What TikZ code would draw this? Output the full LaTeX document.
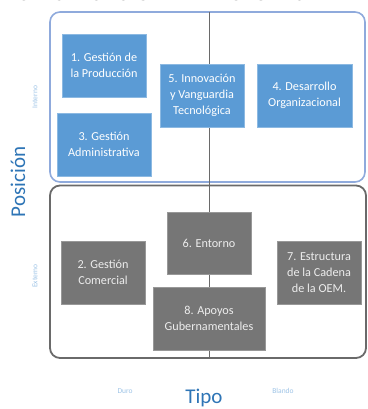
\documentclass[tikz,border=0pt]{standalone}
\usepackage{fontspec}
\setmainfont{Carlito}
\usetikzlibrary{positioning}

\definecolor{boxblue}{HTML}{5B9BD5}
\definecolor{boxgray}{HTML}{767676}
\definecolor{framegray}{HTML}{6A6A6A}
\definecolor{frameblue}{HTML}{8FAADC}
\definecolor{axisblue}{HTML}{2E75B6}
\definecolor{tickblue}{HTML}{9DC3E6}

\begin{document}
\begin{tikzpicture}[x=1pt, y=-1pt, font=\fontsize{12.2}{16}\selectfont,
    bluebox/.style={fill=boxblue, draw=boxblue!70!white, text=white, align=center, inner sep=0pt},
    graybox/.style={fill=boxgray, draw=boxgray!75!white, text=white!93!black, align=center, inner sep=0pt},
    ticklabel/.style={text=tickblue, font=\fontsize{7.5}{9}\selectfont},
    axislabel/.style={text=axisblue, font=\fontsize{21}{24}\selectfont}]
    \useasboundingbox (0,0) rectangle (367,409);
    % title, cut off at the top of the page
    \node[anchor=base west, font=\bfseries\fontsize{24}{28}\selectfont] (title) at (13,1) {CLASIFICACIÓN DE FACTORES};
    % quadrant frames and divider
    \draw[frameblue, line width=1.6pt, rounded corners=10pt] (50,12) rectangle (365,182);
    \draw[framegray, line width=1.8pt, rounded corners=10pt] (50,185.5) rectangle (366,358);
    \coordinate (ltop) at (209,12);
    \coordinate (lbot) at (209,358);
    \draw[framegray, line width=1pt] (ltop) -- (lbot);
    % internal factors
    \node[bluebox, minimum width=84pt, minimum height=63pt] (prod) at (104,65.5) {1. Gestión de\\la Producción};
    \node[bluebox, minimum width=94pt, minimum height=63pt] (admin) at (104,144.5) {3. Gestión\\Administrativa};
    \node[bluebox, minimum width=84pt, minimum height=63pt] (innov) at (202,95.5) {5. Innovación\\y Vanguardia\\Tecnológica};
    \node[bluebox, minimum width=95pt, minimum height=63pt] (desarr) at (304.5,95.5) {4. Desarrollo\\Organizacional};
    % external factors
    \node[graybox, minimum width=84pt, minimum height=62pt] (entorno) at (209,243) {6. Entorno};
    \node[graybox, minimum width=84pt, minimum height=63pt] (comer) at (103,272.5) {2. Gestión\\Comercial};
    \node[graybox, minimum width=84pt, minimum height=63pt] (cadena) at (319,272.5) {7. Estructura\\de la Cadena\\de la OEM.};
    \node[graybox, minimum width=112pt, minimum height=63pt] (apoyos) at (209,318.5) {8. Apoyos\\Gubernamentales};
    % axes
    \node[ticklabel, rotate=90] (interno) at (35,97) {Interno};
    \node[ticklabel, rotate=90] (externo) at (35,276) {Externo};
    \node[axislabel, rotate=90] (posicion) at (18,182) {Posición};
    \node[ticklabel] (duro) at (125,391) {Duro};
    \node[ticklabel] (blando) at (283,391) {Blando};
    \node[axislabel] (tipo) at (204,398) {Tipo};
\end{tikzpicture}
\end{document}
